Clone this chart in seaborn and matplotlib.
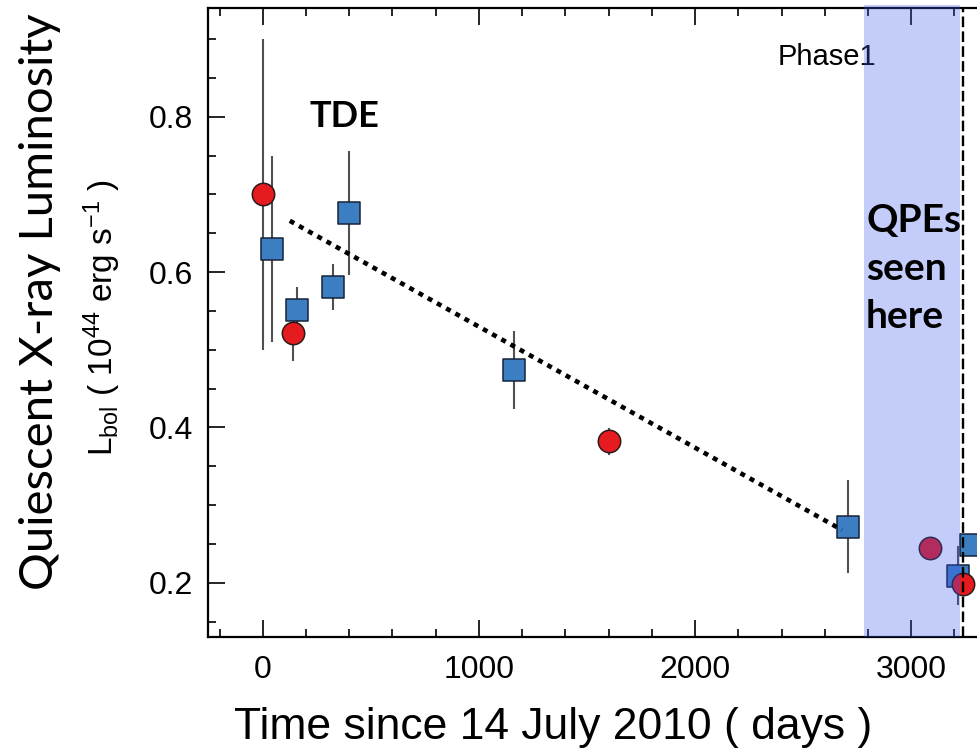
import matplotlib
matplotlib.use("Agg")
import matplotlib.pyplot as plt
import seaborn as sns
import numpy as np
import pandas as pd

# XMM-Newton style quiescent luminosity (red circles)
circle_days = [0, 142, 1604, 3088, 3240]
circle_lum = [0.700, 0.522, 0.382, 0.245, 0.198]
circle_err = [0.200, 0.037, 0.017, 0.0, 0.0]

# Swift/Chandra style quiescent luminosity (blue squares)
square_days = [43, 160, 325, 398, 1164, 2709, 3217, 3277]
square_lum = [0.630, 0.551, 0.581, 0.676, 0.474, 0.272, 0.209, 0.248]
square_err = [0.120, 0.030, 0.030, 0.080, 0.050, 0.060, 0.038, 0.0]

# Decay trend and QPE window
trend_days = [125, 2679]
trend_lum = [0.666, 0.268]
qpe_window = [2782, 3227]
phase1_day = 3240

xticks = [0, 1000, 2000, 3000]
yticks = [0.2, 0.4, 0.6, 0.8]

sns.set_style("ticks")
plt.rcParams["font.family"] = ["Liberation Sans", "DejaVu Sans"]
plt.rcParams["mathtext.fontset"] = "custom"
plt.rcParams["mathtext.rm"] = "Liberation Sans"
plt.rcParams["mathtext.it"] = "Liberation Sans:italic"
for key in ("text.color", "axes.labelcolor", "xtick.color", "ytick.color"):
    plt.rcParams[key] = "black"

W, H = 977, 751
fig = plt.figure(figsize=(W / 100, H / 100), dpi=100)

x0, x1 = -252, 3400
left_px, right_px = 208.3, 262.3 + 3400 * 0.2163
top_px, bot_px = 8.3, 636.7
ax = fig.add_axes([left_px / W, 1 - bot_px / H,
                   (right_px - left_px) / W, (bot_px - top_px) / H])

circles = pd.DataFrame({"day": circle_days, "lum": circle_lum, "err": circle_err})
squares = pd.DataFrame({"day": square_days, "lum": square_lum, "err": square_err})

err_kw = dict(fmt="none", ecolor="#505050", elinewidth=1.5, capsize=0, zorder=2)
ax.errorbar(circles["day"], circles["lum"], yerr=circles["err"], **err_kw)
ax.errorbar(squares["day"], squares["lum"], yerr=squares["err"], **err_kw)

sns.scatterplot(data=squares, x="day", y="lum", marker="s", s=260,
                color="#3b7ec2", edgecolor="#16233a", linewidth=1.1,
                ax=ax, zorder=3, legend=False)
sns.scatterplot(data=circles, x="day", y="lum", marker="o", s=260,
                color="#e51b20", edgecolor="#2a1a1a", linewidth=1.1,
                ax=ax, zorder=3, legend=False)

sns.lineplot(x=trend_days, y=trend_lum, ax=ax, color="black",
             linewidth=3.3, linestyle=(0, (1.1, 1.2)), zorder=4)

ax.text(2611, 0.877, "Phase1", fontsize=21, ha="center", va="center",
        color="black", zorder=4)

ax.axvspan(qpe_window[0], qpe_window[1], ymin=0, ymax=1.005,
           color="#3e58ee", alpha=0.30, lw=0, zorder=5, clip_on=False)
ax.axvline(phase1_day, color="black", lw=1.7, linestyle=(0, (4.5, 1.8)), zorder=6)

bold = dict(family=["Lato", "DejaVu Sans"], fontweight="bold", color="black")
ax.text(378, 0.80, "TDE", fontsize=26, ha="center", va="center", zorder=6, **bold)
ax.text(2791, 0.605, "QPEs\nseen\nhere", fontsize=28, ha="left", va="center",
        linespacing=1.45, zorder=6, **bold)

ax.set_xlim(x0, x1)
ax.set_ylim(0.1305, 0.9396)
ax.set_xticks(xticks)
ax.set_xticks(np.arange(-200, 3401, 200), minor=True)
ax.set_yticks(yticks)
ax.set_yticks(np.arange(0.15, 0.95, 0.05), minor=True)
ax.set_yticklabels([f"{v:.1f}" for v in yticks])
ax.tick_params(axis="both", which="major", direction="in", length=12, width=1.2,
               labelsize=23, top=True, right=True, color="black",
               labelcolor="black")
ax.tick_params(axis="both", which="minor", direction="in", length=6, width=1.2,
               top=True, right=True, color="black")
ax.tick_params(axis="x", which="major", pad=13)
ax.tick_params(axis="y", which="major", pad=11)
for s in ax.spines.values():
    s.set_linewidth(1.6)
    s.set_color("black")

ax.set_xlabel("Time since 14 July 2010 ( days )", fontsize=32, color="black")
ax.xaxis.set_label_coords(0.437, -0.112)
ax.set_ylabel("")

fig.text(40 / W, 1 - 302 / H, "Quiescent X-ray Luminosity", rotation=90,
         fontsize=34, ha="center", va="center", color="black",
         family=["Lato", "DejaVu Sans"])
fig.text(102 / W, 1 - 318 / H,
         r"L$_{\mathrm{bol}}$ ( 10$^{44}$ erg s$^{\mathrm{-1}}$ )",
         rotation=90, fontsize=24, ha="center", va="center", color="black")

fig.savefig("out.png", dpi=100)
